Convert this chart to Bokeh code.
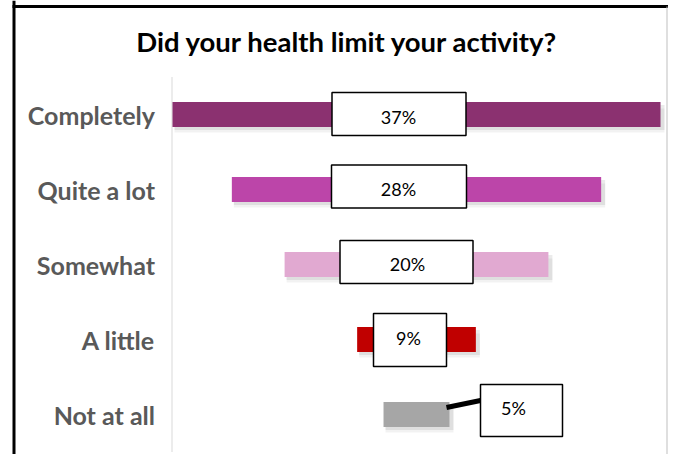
from bokeh.plotting import figure
from bokeh.models import Range1d, Label, ColumnDataSource
from bokeh.core.properties import value
from bokeh.embed import file_html
from bokeh.resources import INLINE

# ---------------- data ----------------
title = "Did your health limit your activity?"
categories = ["Completely", "Quite a lot", "Somewhat", "A little", "Not at all"]
percents = [37, 28, 20, 9, 5]
bar_colors = ["#8B3170", "#BC45A9", "#E1A9D1", "#C00000", "#A6A6A6"]

# ---------------- layout (pixels) ----------------
W, H = 668, 454
PX_PER_PCT = 13.19     # horizontal scale
ROW_PX = 75            # row spacing
CX = 416               # centre of bars (figure px)
CY0 = 114              # centre of first row (figure px)

# data-label boxes, pixel offsets relative to bar centre
box_dx = [-17.5, -17.5, -10, -6.5, 105]
box_dy = [-0.5, -3, -2.5, 0.5, -4]
box_w = [134, 135, 133, 73, 82]
box_h = [43, 43, 43, 53, 52]
text_dx = [-18, -18, -9, -8, 97]
text_dy = [2, -0.5, -1, -2, -6.5]
leader_row = 4
leader_px = [(30, -7), (64, -14)]


def px_x(px):
    return (px - CX) / PX_PER_PCT


def px_y(py):
    return (py - CY0) / ROW_PX


rows = list(range(len(categories)))

p = figure(width=W, height=H,
           x_range=Range1d(px_x(0), px_x(W)),
           y_range=Range1d(px_y(H), px_y(0)),
           output_backend="svg", toolbar_location=None,
           x_axis_type=None, y_axis_type=None, min_border=0,
           outline_line_color=None, background_fill_color="white",
           border_fill_color="white")

src = ColumnDataSource(dict(
    cat=categories,
    row=rows,
    pct=percents,
    left=[-v / 2 for v in percents],
    right=[v / 2 for v in percents],
    color=bar_colors,
    label=[f"{v}%" for v in percents],
    shadow1=[r + 3 / ROW_PX for r in rows],
    shadow2=[r + 6 / ROW_PX for r in rows],
    sl=[-v / 2 + 2 / PX_PER_PCT for v in percents],
    sr=[v / 2 + 4 / PX_PER_PCT for v in percents],
    bx=[d / PX_PER_PCT for d in box_dx],
    by=[r + d / ROW_PX for r, d in zip(rows, box_dy)],
    bw=box_w, bh=box_h,
    tx=[d / PX_PER_PCT for d in text_dx],
    ty=[r + d / ROW_PX for r, d in zip(rows, text_dy)],
))

# frame lines
axis_x = px_x(171.5)
p.segment(x0=[px_x(13.5)], y0=[px_y(0)], x1=[px_x(13.5)], y1=[px_y(H)],
          line_color="black", line_width=3)
p.segment(x0=[px_x(12)], y0=[px_y(6)], x1=[px_x(W)], y1=[px_y(6)],
          line_color="black", line_width=3)
p.segment(x0=[px_x(666.5)], y0=[px_y(6)], x1=[px_x(666.5)], y1=[px_y(H)],
          line_color="#BFBFBF", line_width=1)

# axis line
p.segment(x0=[axis_x], y0=[-0.5], x1=[axis_x], y1=[len(categories) - 0.5],
          line_color="#D9D9D9", line_width=1)

# bar shadows
p.hbar(y="shadow2", left="sl", right="sr", height=24 / ROW_PX, source=src,
       fill_color="black", fill_alpha=0.05, line_color=None)
p.hbar(y="shadow1", left="sl", right="sr", height=25 / ROW_PX, source=src,
       fill_color="black", fill_alpha=0.08, line_color=None)

# bars
p.hbar(y="row", left="left", right="right", height=25 / ROW_PX, source=src,
       fill_color="color", line_color=None)

# category labels
p.text(x=axis_x, y="row", text="cat", source=src, x_offset=-17, y_offset=0,
       text_align="right", text_baseline="middle",
       text_font=value("Lato"), text_font_style="bold",
       text_font_size="25px", text_color="#595959")

# leader line for last label
(x0p, y0p), (x1p, y1p) = leader_px
p.segment(x0=[x0p / PX_PER_PCT], y0=[leader_row + y0p / ROW_PX],
          x1=[x1p / PX_PER_PCT], y1=[leader_row + y1p / ROW_PX],
          line_color="black", line_width=5)

# label boxes
p.rect(x="bx", y="by", width="bw", height="bh", width_units="screen",
       height_units="screen", source=src, fill_color="white",
       line_color="black", line_width=1.5)

p.text(x="tx", y="ty", text="label", source=src,
       text_align="center", text_baseline="middle",
       text_font=value("Lato"), text_font_size="18px", text_color="black")

# title
p.add_layout(Label(x=347, y=H - 41, x_units="screen", y_units="screen",
                   text=title, text_align="center", text_baseline="middle",
                   text_font="Lato", text_font_style="bold",
                   text_font_size="27.5px", text_color="black"))

open("out.html", "w").write(file_html(p, INLINE))
